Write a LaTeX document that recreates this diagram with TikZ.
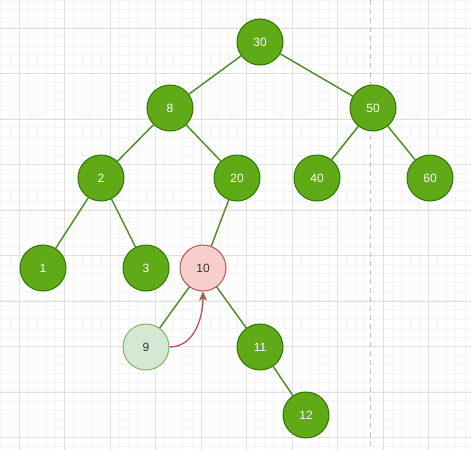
\documentclass[tikz,border=0pt]{standalone}
\usepackage{fontspec}
\setmainfont{Liberation Sans}
\usetikzlibrary{arrows.meta}

\begin{document}
\begin{tikzpicture}[x=1pt, y=-1pt, every node/.style={font=\fontsize{12}{14}\selectfont}]
        \definecolor{dgreen}{RGB}{96,169,23}
        \definecolor{dgreenline}{RGB}{45,118,0}
        \definecolor{edgegreen}{RGB}{78,145,38}
        \definecolor{dred}{RGB}{248,206,204}
        \definecolor{dredline}{RGB}{184,84,80}
        \definecolor{lgreen}{RGB}{213,232,212}
        \definecolor{lgreenline}{RGB}{130,179,102}
        \tikzset{
            key/.style={circle, draw=dgreenline, fill=dgreen, text=white, line width=1pt, minimum size=46pt, inner sep=0pt},
            hit/.style={key, draw=dredline, fill=dred, text=black!80},
            ghost/.style={key, draw=lgreenline, fill=lgreen, text=black!80},
            link/.style={edgegreen, line width=1.5pt}
        }

        % Background grid
        \useasboundingbox (0,0) rectangle (471,450);
        \fill[white] (0,0) rectangle (471,450);
        \foreach \x in {0.8,9.9,...,471} \draw[black!4, line width=0.8pt] (\x,0) -- (\x,450);
        \foreach \y in {0.4,9.5,...,450} \draw[black!4, line width=0.8pt] (0,\y) -- (471,\y);
        \foreach \x in {19,64.5,...,471} \draw[black!12, line width=0.9pt] (\x,0) -- (\x,450);
        \foreach \y in {28,73.5,...,450} \draw[black!12, line width=0.9pt] (0,\y) -- (471,\y);
        \draw[black!25, line width=1.3pt, dash pattern=on 5pt off 4pt] (370.5,0) -- (370.5,450);

        % Tree nodes
        \node[key] (n30) at (260,42) {30};
        \node[key] (n8) at (170,108) {8};
        \node[key] (n50) at (373,108) {50};
        \node[key] (n2) at (101,178) {2};
        \node[key] (n20) at (237,178) {20};
        \node[key] (n40) at (317,178) {40};
        \node[key] (n60) at (430,178) {60};
        \node[key] (n1) at (43,268) {1};
        \node[key] (n3) at (146,268) {3};
        \node[hit] (n10) at (203,268) {10};
        \node[ghost] (n9) at (146,347) {9};
        \node[key] (n11) at (260,347) {11};
        \node[key] (n12) at (306,415) {12};

        % Edges
        \draw[link] (n30) -- (n8);
        \draw[link] (n30) -- (n50);
        \draw[link] (n8) -- (n2);
        \draw[link] (n8) -- (n20);
        \draw[link] (n50) -- (n40);
        \draw[link] (n50) -- (n60);
        \draw[link] (n2) -- (n1);
        \draw[link] (n2) -- (n3);
        \draw[link] (n20) -- (n10);
        \draw[link] (n10) -- (n9);
        \draw[link] (n10) -- (n11);
        \draw[link] (n11) -- (n12);

        % Move arrow
        \draw[dredline, line width=1.3pt, -{Stealth[length=9pt, width=8pt, inset=2pt]}] (n9.east) to[out=0, in=-90] (n10.south);
    \end{tikzpicture}
\end{document}
